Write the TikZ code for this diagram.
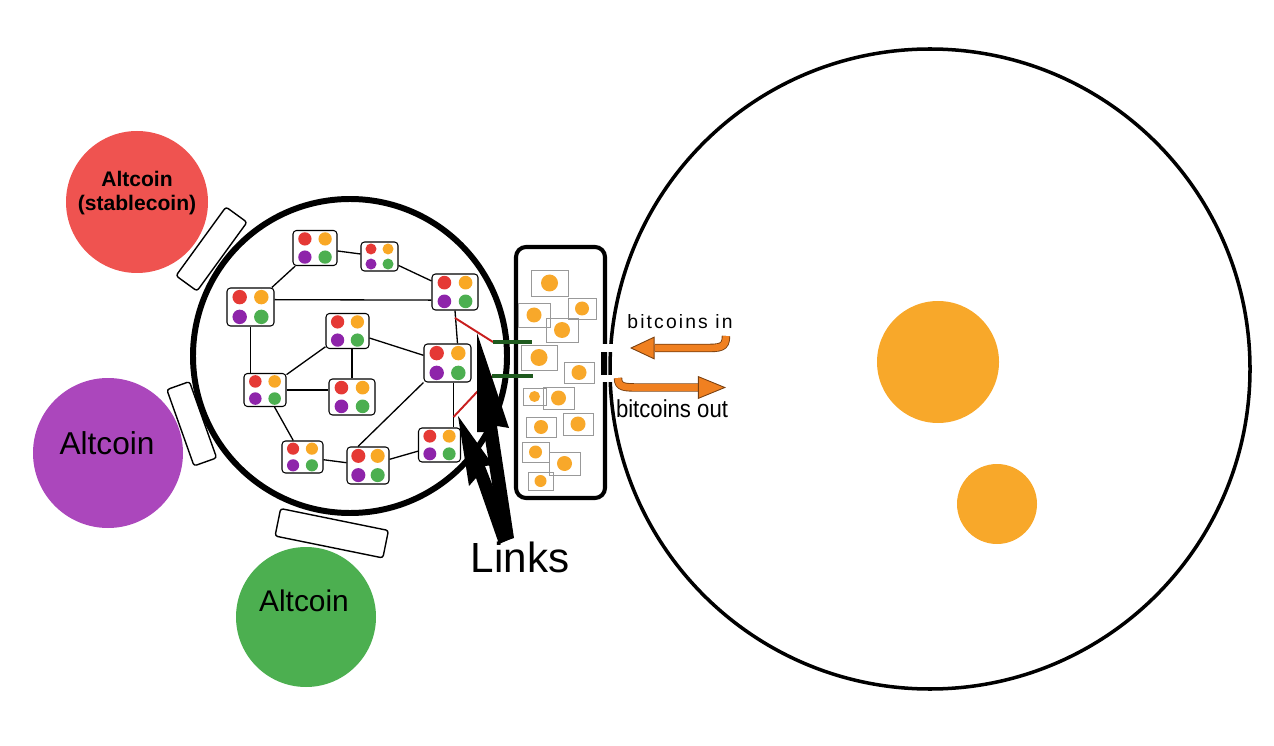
\documentclass[tikz,border=0pt]{standalone}
\usepackage{fontspec}
\usepackage{graphicx}
\setmainfont{Liberation Sans}
\usetikzlibrary{calc, arrows.meta}

\definecolor{altred}{HTML}{EF5350}
\definecolor{altpurple}{HTML}{AB47BC}
\definecolor{altgreen}{HTML}{4CAF50}
\definecolor{dotred}{HTML}{E53935}
\definecolor{dotorange}{HTML}{F9A825}
\definecolor{dotpurple}{HTML}{8E24AA}
\definecolor{dotgreen}{HTML}{4CAF50}
\definecolor{btcorange}{HTML}{F8A82A}
\definecolor{floworange}{HTML}{F08020}
\definecolor{flowedge}{HTML}{7A4010}
\definecolor{linkred}{HTML}{C81E1E}
\definecolor{linkgreen}{HTML}{1E5A1E}

\newcommand{\px}{0.02cm}

\tikzset{
  wallet/.style={draw, fill=white, rounded corners=2pt, line width=0.6pt, inner sep=0pt},
  coinbox/.style={draw=gray!80, line width=0.4pt, inner sep=0pt},
  altcoin/.style={circle, inner sep=0pt},
  btccoin/.style={circle, fill=btcorange, inner sep=0pt},
  tab/.style={draw, fill=white, rounded corners=1.5pt, line width=0.8pt, inner sep=0pt},
  edge/.style={line width=0.75pt},
  redlink/.style={linkred, line width=1.1pt},
  greenlink/.style={linkgreen, line width=2.3pt},
  flowline/.style={floworange, line width=3.8pt},
  flowrim/.style={flowedge, line width=4.8pt}
}

% wallet: name, x, y, width, height (all in px)
\newcommand{\walletbox}[5]{%
  \node[wallet, minimum width=#4*\px, minimum height=#5*\px] (#1) at (#2,#3) {};
  \fill[dotred]    ($(#1)+(-0.23*#4,-0.26*#5)$) circle (0.19*#5);
  \fill[dotorange] ($(#1)+( 0.23*#4,-0.26*#5)$) circle (0.19*#5);
  \fill[dotpurple] ($(#1)+(-0.23*#4, 0.26*#5)$) circle (0.19*#5);
  \fill[dotgreen]  ($(#1)+( 0.23*#4, 0.26*#5)$) circle (0.19*#5);
}
% coin in the channel: name, x, y, width, height, dot radius
\newcommand{\btcbox}[6]{%
  \node[coinbox, minimum width=#4*\px, minimum height=#5*\px] (#1) at (#2,#3) {};
  \fill[btcorange] (#1) circle (#6);
}

\begin{document}
\begin{tikzpicture}[x=0.02cm, y=-0.02cm]
  \useasboundingbox (0,0) rectangle (1274,746);

  % bitcoin side
  \node[circle, draw, line width=2pt, minimum size=640*\px, inner sep=0pt] (world) at (930,369) {};
  \node[btccoin, minimum size=122*\px] (bigcoin) at (938,362) {};
  \node[btccoin, minimum size=80*\px] (smallcoin) at (997,504) {};

  \node[draw, fill=white, line width=2.3pt, rounded corners=0.2cm,
        minimum width=89*\px, minimum height=251*\px] (chan) at (560.5,372.5) {};
  \fill[white] (597,344) rectangle (617,352);
  \fill[white] (597,375) rectangle (617,382);
  \fill (601,352) rectangle (607,375);

  \btcbox{c1}{549.5}{283}{37}{26}{8.5}
  \btcbox{c2}{534}{315}{32}{24}{7.5}
  \btcbox{c3}{582}{308.5}{28}{21}{7}
  \btcbox{c4}{562}{330}{32}{24}{8}
  \btcbox{c5}{539}{357.5}{36}{25}{8.5}
  \btcbox{c6}{579}{372.5}{30}{21}{7.5}
  \btcbox{c7}{534.5}{396.5}{23}{17}{5.5}
  \btcbox{c8}{558.5}{398}{31}{22}{7.5}
  \btcbox{c9}{541}{427}{30}{20}{7}
  \btcbox{c10}{578}{424}{30}{22}{7.5}
  \btcbox{c11}{535.5}{452}{27}{20}{6.5}
  \btcbox{c12}{564.5}{463.5}{31}{23}{7.5}
  \btcbox{c13}{540.5}{481}{25}{18}{6}

  % flows through the channel
  \node[font=\fontsize{11}{13}\selectfont\addfontfeature{LetterSpace=11}] (intxt) at (680,322) {bitcoins in};
  \node[font=\fontsize{14}{16}\selectfont] (outtxt) at (672,409) {\scalebox{0.9}[1]{bitcoins out}};
  \coordinate (inA) at (726,336);
  \coordinate (inB) at (630,348);
  \coordinate (outA) at (618,378);
  \coordinate (outB) at (726,387.5);
  \draw[flowrim] (inA) .. controls (726,348) and (720,348) .. (705,348) -- (655,348);
  \draw[flowline, -{Triangle[length=14pt, width=13pt, fill=floworange, color=flowedge, line width=0.5pt]}]
    (inA) .. controls (726,348) and (720,348) .. (705,348) -- (inB);
  \draw[flowrim] (outA) .. controls (618,387.5) and (624,387.5) .. (640,387.5) -- (698,387.5);
  \draw[flowline, -{Triangle[length=16pt, width=13pt, fill=floworange, color=flowedge, line width=0.5pt]}]
    (outA) .. controls (618,387.5) and (624,387.5) .. (640,387.5) -- (outB);

  % altcoins
  \node[altcoin, fill=altred, minimum size=142*\px] (stable) at (137,202) {};
  \node[font=\bfseries\fontsize{12}{14}\selectfont, align=center] (stablelabel) at (137,193) {Altcoin\\(stablecoin)};
  \node[altcoin, fill=altpurple, minimum size=150*\px] (purple) at (108,453) {};
  \node[font=\fontsize{18}{20}\selectfont] (purplelabel) at (107,443) {Altcoin};
  \node[altcoin, fill=altgreen, minimum size=140*\px] (green) at (306,617) {};
  \node[font=\fontsize{17}{19}\selectfont] (greenlabel) at (304,601) {Altcoin};

  \node[tab, minimum width=85*\px, minimum height=26*\px, rotate=54] (tabred) at (211.5,249) {};
  \node[tab, minimum width=81*\px, minimum height=24*\px, rotate=-70.4] (tabpurple) at (191.75,423.75) {};
  \node[tab, minimum width=110*\px, minimum height=28*\px, rotate=-11.5] (tabgreen) at (331.75,533.25) {};

  % lightning network
  \node[circle, draw, line width=3.4pt, minimum size=314*\px, inner sep=0pt] (net) at (350,356) {};

  \walletbox{w1}{315}{248}{44}{35}
  \walletbox{w2}{379.5}{256.5}{37}{29}
  \walletbox{w3}{455}{292}{46}{36}
  \walletbox{w4}{250.5}{307}{47}{38}
  \walletbox{w5}{347.5}{331}{43}{35}
  \walletbox{w6}{447.5}{363}{47}{38}
  \walletbox{w7}{265}{390}{42}{33}
  \walletbox{w8}{352}{397}{46}{36}
  \walletbox{w9}{302.5}{457}{41}{32}
  \walletbox{w10}{368}{465.5}{42}{37}
  \walletbox{w11}{439.5}{445}{42}{34}

  \draw[edge] (w1) -- (w2);
  \draw[edge] (w2) -- (w3);
  \draw[edge] (w1) -- (w4);
  \draw[edge] (w4.17) -- (w3.199);
  \draw[edge] (w3.south) -- ($(w6.north)+(10,0)$);
  \draw[edge] (w5) -- (w6);
  \draw[edge] (w5) -- (w7);
  \draw[edge] (w4.south) -- (w4.south |- w7.north);
  \draw[edge] (w8.north) -- (w8.north |- w5.south);
  \draw[edge] (w7.east) -- (w7.east -| w8.west);
  \draw[edge] (w7) -- (w9);
  \draw[edge] (w9) -- (w10);
  \draw[edge] ($(w10.north)+(-10,0)$) -- (w6.south west);
  \draw[edge] (w10) -- (w11);
  \draw[edge] ($(w6.south)+(6,0)$) -- ($(w11.north)+(14,0)$);

  % links to the channel
  \coordinate (p1) at (455,318);
  \coordinate (p2) at (453.5,417);
  \coordinate (g1) at (493,342);
  \coordinate (g2) at (492,376);
  \draw[redlink] (p1) -- (g1);
  \draw[redlink] (p2) -- (g2);
  \draw[greenlink] (g1) -- ++(39,0);
  \draw[greenlink] (g2) -- ++(41,0);

  \node[font=\fontsize{24}{26}\selectfont] (links) at (520,557) {Links};
  \fill (477,333) -- (509,428) -- (497,426) -- (514,538) -- (501,542) -- (484,432) -- (477,432) -- cycle;
  \fill (458,416) -- (493,465) -- (485,466) -- (513,538) -- (499,544) -- (476,478) -- (469,486) -- cycle;
\end{tikzpicture}
\end{document}
